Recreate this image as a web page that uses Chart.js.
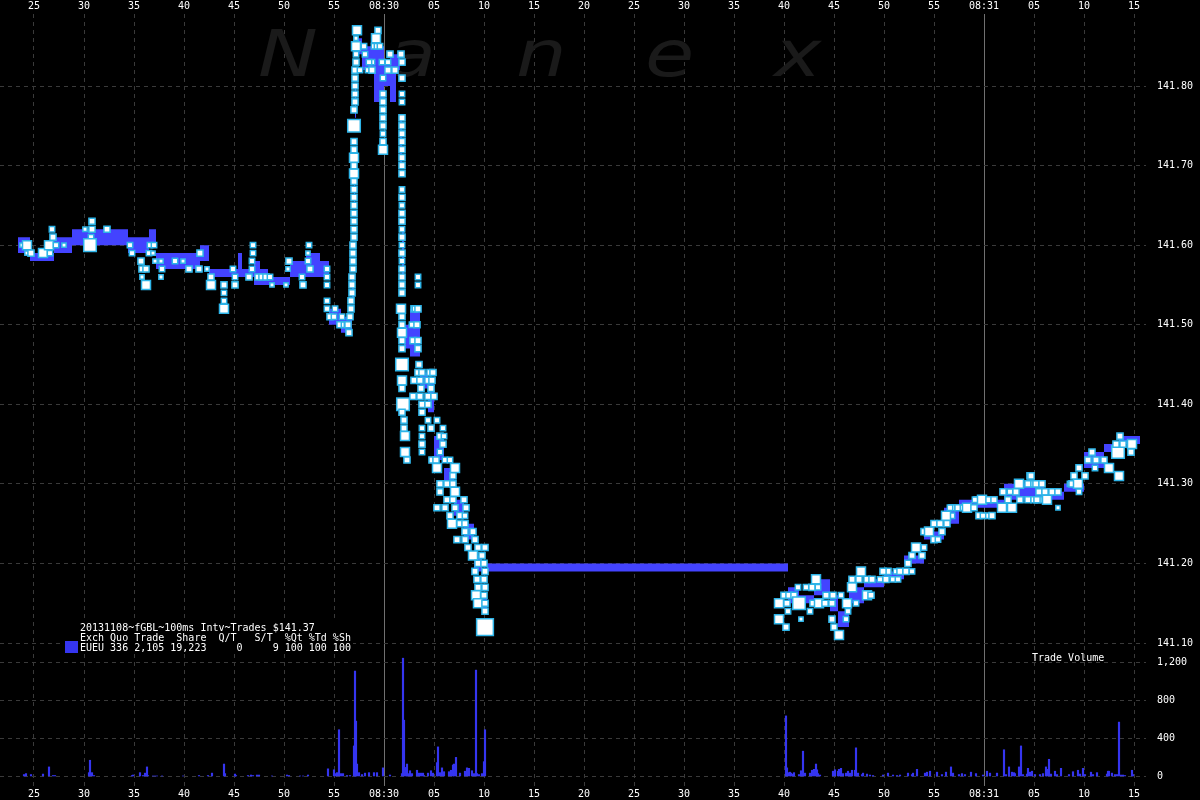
<!DOCTYPE html>
<html>
<head>
<meta charset="utf-8">
<script src="https://cdn.jsdelivr.net/npm/chart.js@4.4.0/dist/chart.umd.min.js"></script>
<style>
  html, body { margin: 0; padding: 0; background: #000; }
  canvas { display: block; }
</style>
</head>
<body>
<canvas id="chart" width="1200" height="800"></canvas>
<script>
/* ---- data (seconds relative to 08:30:00) ---- */
const X_TICKS = [-35, -30, -25, -20, -15, -10, -5, 0, 5, 10, 15, 20, 25, 30, 35, 40, 45, 50, 55, 60, 65, 70, 75];
const MINUTE_MARKS = [0, 60];
const PRICE_TICKS = [141.10, 141.20, 141.30, 141.40, 141.50, 141.60, 141.70, 141.80];
const VOL_TICKS = [0, 200, 400, 600, 800, 1000, 1200];

// trades: [second, price, contracts]
const PRE_TRADES = [
  [-36.2,141.60,2],[-35.7,141.60,25],[-35.7,141.59,2],[-35.3,141.59,8],[-34.1,141.59,25],[-33.5,141.60,25],
  [-33.4,141.59,5],[-33.2,141.62,5],[-33.1,141.61,8],[-32.8,141.60,5],[-32.0,141.60,2],
  [-29.9,141.62,2],[-29.3,141.61,5],[-29.2,141.63,8],[-29.2,141.62,8],[-29.4,141.60,60],[-27.7,141.62,8],
  [-25.4,141.60,5],[-25.2,141.59,5],[-24.3,141.58,8],[-24.2,141.57,8],[-23.8,141.57,8],[-24.2,141.56,2],
  [-23.8,141.55,25],[-23.5,141.59,5],[-23.4,141.60,5],[-23.0,141.60,5],[-23.1,141.59,2],[-22.9,141.58,2],
  [-22.3,141.58,2],[-22.2,141.57,5],[-22.3,141.56,2],
  [-20.9,141.58,5],[-20.1,141.58,2],[-19.5,141.57,8],[-18.4,141.59,8],[-18.5,141.57,8],[-17.7,141.57,2],
  [-17.3,141.56,8],[-17.3,141.55,25],
  [-16.0,141.55,8],[-16.0,141.54,5],[-16.0,141.53,5],[-16.0,141.52,25],[-15.1,141.57,5],[-14.9,141.56,5],[-14.9,141.55,8],
  [-13.5,141.56,8],[-13.1,141.60,5],[-13.1,141.59,5],[-13.2,141.58,5],[-13.2,141.57,5],[-12.6,141.56,8],
  [-12.2,141.56,8],[-11.8,141.56,8],[-11.4,141.56,5],[-11.2,141.55,2],
  [-9.8,141.55,2],[-9.5,141.58,8],[-9.6,141.57,2],[-8.2,141.56,5],[-8.1,141.55,8],[-7.5,141.60,5],
  [-7.6,141.59,2],[-7.6,141.58,5],[-7.4,141.57,8],
  [-5.7,141.57,5],[-5.7,141.56,5],[-5.7,141.55,5],[-5.7,141.53,5],[-5.7,141.52,5],[-5.4,141.51,8],
  [-5.0,141.51,5],[-4.9,141.52,5],[-4.4,141.50,8],[-4.2,141.51,5],[-4.0,141.50,5],[-3.7,141.50,5]
];

const SPIKE_TRADES = [
  [-3.6,141.50,8],[-3.5,141.49,8],[-3.4,141.51,8],[-3.3,141.52,8],[-3.3,141.53,8],[-3.2,141.54,8],
  [-3.2,141.55,8],[-3.2,141.56,8],[-3.1,141.57,8],[-3.1,141.58,8],[-3.1,141.59,8],[-3.1,141.60,8],
  [-3.0,141.61,8],[-3.0,141.62,8],[-3.0,141.63,8],[-3.0,141.64,8],[-3.0,141.65,8],[-3.0,141.66,8],
  [-3.0,141.67,8],[-3.0,141.68,8],[-3.0,141.69,25],[-3.0,141.70,8],[-3.0,141.71,25],[-3.0,141.72,8],
  [-3.0,141.73,8],[-3.0,141.75,60],[-3.0,141.77,8],[-2.9,141.78,8],[-2.9,141.79,8],[-2.9,141.80,8],
  [-2.9,141.81,8],[-2.9,141.82,8],[-2.8,141.84,5],
  [-2.7,141.87,25],[-2.8,141.86,2],[-2.8,141.85,25],[-2.0,141.85,5],[-1.0,141.85,5],[-0.7,141.85,5],
  [-0.6,141.87,8],[-0.8,141.86,25],[-0.4,141.85,5],[-2.8,141.83,8],[-2.4,141.82,5],[-1.6,141.82,5],
  [-1.2,141.82,8],[-1.2,141.83,5],[-0.2,141.83,5],[0.4,141.83,5],[0.4,141.82,8],[1.1,141.82,8],
  [0.6,141.84,8],[1.7,141.84,8],[1.8,141.83,8],[-1.9,141.84,5],[-1.5,141.83,5],
  [-0.1,141.81,5],[-0.1,141.79,8],[-0.1,141.78,8],[-0.1,141.77,8],[-0.1,141.76,8],[-0.1,141.75,8],
  [-0.1,141.74,5],[-0.1,141.73,8],[-0.1,141.72,25],
  [1.8,141.81,8],[1.8,141.79,5],[1.8,141.78,5],[1.8,141.76,8],[1.8,141.75,8],[1.8,141.74,8],
  [1.8,141.73,8],[1.8,141.72,8],[1.8,141.71,8],[1.8,141.70,8],[1.8,141.69,8],[1.8,141.67,5],
  [1.8,141.66,8],[1.8,141.65,5],[1.8,141.64,8],[1.8,141.63,8],[1.8,141.62,5],[1.8,141.61,8],
  [1.8,141.60,5],[1.8,141.59,8],[1.8,141.58,5],[1.8,141.57,8],[1.8,141.56,8],[1.8,141.55,8],
  [1.8,141.54,8],[1.7,141.52,25],[1.8,141.51,8],[1.8,141.50,8],[1.8,141.49,25],
  [3.4,141.56,5],[3.4,141.55,5],[3.0,141.52,8]
];

const DROP_TRADES = [
  [1.8,141.48,8],[1.8,141.47,8],[1.8,141.45,60],[1.8,141.43,25],[1.8,141.42,8],[1.9,141.40,60],
  [1.8,141.39,8],[2.0,141.38,8],[2.0,141.37,8],[2.1,141.36,25],[2.1,141.34,25],[2.3,141.33,8],
  [3.1,141.52,5],[3.4,141.52,8],[2.8,141.50,5],[3.3,141.50,8],[2.9,141.48,8],[3.4,141.48,8],
  [3.4,141.47,8],[3.5,141.45,8],
  [3.4,141.44,8],[3.8,141.44,8],[4.6,141.44,8],[4.9,141.44,8],
  [3.0,141.43,8],[3.6,141.43,8],[4.4,141.43,8],[4.8,141.43,8],
  [3.7,141.42,8],[4.7,141.42,8],
  [2.9,141.41,8],[3.6,141.41,8],[4.4,141.41,8],[5.0,141.41,8],
  [3.8,141.40,8],[4.4,141.40,8],[3.8,141.39,8],[4.4,141.38,5],[5.3,141.38,5],
  [3.8,141.37,5],[4.7,141.37,8],[5.9,141.37,5],
  [3.8,141.36,5],[5.6,141.36,8],[6.0,141.36,5],
  [3.8,141.35,8],[5.9,141.35,8],[3.8,141.34,5],[5.6,141.34,5],
  [4.8,141.33,8],[5.2,141.33,8],[6.1,141.33,5],[6.6,141.33,5],
  [5.3,141.32,25],[7.1,141.32,25],[6.9,141.31,8],
  [5.6,141.30,8],[6.3,141.30,8],[6.9,141.30,8],[7.1,141.29,25],
  [5.6,141.29,8],[6.3,141.28,8],[6.9,141.28,8],[8.0,141.28,8],
  [5.3,141.27,8],[6.1,141.27,8],[7.1,141.27,8],[8.2,141.27,8],
  [6.6,141.26,8],[7.6,141.26,8],[8.1,141.26,5],
  [6.8,141.25,25],[7.6,141.25,8],[8.1,141.25,8],[8.1,141.24,8],[8.9,141.24,8],
  [7.3,141.23,8],[8.1,141.23,8],[9.1,141.23,8],
  [8.4,141.22,8],[9.4,141.22,8],[10.1,141.22,8],
  [8.9,141.21,25],[9.8,141.21,8],[9.4,141.20,8],[10.0,141.20,8],
  [9.1,141.19,8],[10.1,141.19,8],[9.3,141.18,8],[10.0,141.18,8],
  [9.4,141.17,8],[10.1,141.17,8],[9.2,141.16,25],[10.0,141.16,8],
  [9.4,141.15,25],[10.1,141.15,8],[10.1,141.14,8],[10.1,141.12,120]
];

const RECOVERY_TRADES = [
  [39.5,141.15,25],[39.5,141.13,25],[40.2,141.12,8],[40.0,141.16,8],[40.5,141.16,8],[41.0,141.16,8],
  [40.3,141.15,8],[40.4,141.14,5],[41.5,141.15,60],[41.7,141.13,2],[41.4,141.17,5],[42.2,141.17,5],
  [42.8,141.17,8],[43.2,141.18,25],[43.4,141.17,5],[42.9,141.15,8],[43.5,141.15,25],[44.1,141.15,8],
  [42.6,141.14,5],[44.2,141.16,8],[44.9,141.16,8],[44.8,141.15,8],[44.8,141.13,8],[45.0,141.12,8],
  [45.5,141.11,25],[46.3,141.15,25],[46.4,141.14,5],[46.2,141.13,5],[45.7,141.16,5],
  [46.8,141.17,25],[46.8,141.18,8],[47.2,141.15,5],[47.5,141.18,8],[48.3,141.18,8],[47.7,141.19,25],
  [48.3,141.16,25],[48.7,141.16,8],[48.8,141.18,8],[49.6,141.18,5],[50.2,141.18,8],[50.4,141.19,8],
  [50.9,141.18,5],[51.4,141.18,5],[51.2,141.19,5],[49.9,141.19,8],
  [51.6,141.19,8],[52.2,141.19,8],[52.8,141.19,5],[52.4,141.20,8],[52.8,141.21,8],
  [53.2,141.22,25],[53.8,141.21,8],[54.0,141.22,5],
  [54.0,141.24,8],[54.5,141.24,25],[55.0,141.23,8],[55.4,141.23,5],[55.0,141.25,8],[55.8,141.24,8],
  [55.6,141.25,8],[56.3,141.25,8],[56.8,141.26,5],[56.2,141.26,25],[56.8,141.27,8],[56.6,141.27,5],
  [57.4,141.27,8],[57.9,141.27,5],[58.3,141.27,25],[59.0,141.27,8],[59.3,141.28,8],
  [59.5,141.26,8],[60.3,141.26,5],[60.8,141.26,8],[59.1,141.28,5],
  [59.8,141.28,25],[60.5,141.28,8],[61.0,141.28,8],[59.9,141.26,5],
  [61.8,141.27,25],[62.4,141.28,8],[61.9,141.29,8],[62.8,141.27,25],[62.6,141.29,5],[63.2,141.29,8],
  [63.5,141.30,25],[63.6,141.28,8],[64.4,141.28,8],[65.0,141.28,8],[65.5,141.28,8],
  [64.6,141.31,8],[64.4,141.30,8],[65.0,141.30,8],[65.5,141.29,8],
  [64.7,141.31,8],[65.2,141.30,8],[65.8,141.30,8],[65.3,141.28,8],[66.1,141.29,8],[66.3,141.28,25],
  [66.8,141.29,8],[67.4,141.29,8],[67.4,141.27,2],
  [68.6,141.30,5],[68.8,141.30,8],[69.4,141.30,25],[69.0,141.31,8],[69.5,141.29,5],
  [69.5,141.32,8],[70.1,141.31,8],[70.4,141.33,8],[70.8,141.34,8],[71.2,141.33,8],[71.1,141.32,5],
  [72.0,141.33,8],[72.6,141.32,8],[72.5,141.32,25],[73.5,141.31,25],[73.4,141.34,60],
  [73.6,141.36,8],[73.2,141.35,8],[73.9,141.35,8],[74.8,141.35,25],[74.7,141.34,8]
];

// inside quote band (bid / ask), held until the next change
const QUOTE_SEC = [-36.6, -35.4, -33.0, -31.2, -25.6, -23.5, -22.8, -18.4, -17.5, -14.6, -14.2, -13.0, -12.4, -11.6,
  -9.4, -7.8, -6.4, -5.5, -4.3, -3.2, -3.0, -2.9, -2.8, -2.2, -1.0, 0.0, 0.6, 1.2, 1.6, 1.8, 2.0, 2.6, 3.6, 4.4,
  5.0, 6.0, 7.0, 8.0, 9.0, 9.8, 10.3, 40.4, 41.5, 43.0, 44.6, 45.4, 46.5, 48.0, 50.0, 52.0, 54.0, 56.0, 57.5,
  62.0, 66.0, 68.0, 70.0, 72.0, 73.5, 75.6];
const QUOTE_BID = [141.59, 141.58, 141.59, 141.60, 141.59, 141.60, 141.57, 141.58, 141.56, 141.56, 141.56, 141.55, 141.55, 141.55,
  141.56, 141.56, 141.56, 141.50, 141.49, 141.53, 141.65, 141.76, 141.84, 141.82, 141.78, 141.80, 141.78, 141.82, 141.70, 141.56, 141.47, 141.46, 141.42, 141.39,
  141.33, 141.30, 141.26, 141.23, 141.19, 141.14, 141.19, 141.15, 141.15, 141.16, 141.14, 141.12, 141.15, 141.17, 141.18, 141.20, 141.23, 141.25, 141.27,
  141.28, 141.28, 141.29, 141.32, 141.34, 141.35, 141.35];
const QUOTE_ASK = [141.61, 141.59, 141.61, 141.62, 141.61, 141.62, 141.59, 141.60, 141.57, 141.59, 141.57, 141.58, 141.57, 141.56,
  141.58, 141.59, 141.58, 141.52, 141.51, 141.56, 141.70, 141.80, 141.86, 141.85, 141.85, 141.83, 141.84, 141.84, 141.76, 141.62, 141.50, 141.52, 141.44, 141.43,
  141.36, 141.32, 141.28, 141.25, 141.21, 141.16, 141.20, 141.17, 141.16, 141.18, 141.16, 141.14, 141.17, 141.18, 141.19, 141.21, 141.24, 141.27, 141.28,
  141.30, 141.29, 141.30, 141.34, 141.35, 141.36, 141.36];

// trade volume per 100ms interval
const VOL_SEC = [-36.0, -35.8, -35.3, -34.1, -33.5, -33.1, -32.9, -29.5, -29.4, -29.2, -29.0, -25.2, -25.1, -24.4, -24.1,
  -23.9, -23.7, -23.6, -23.1, -22.9, -22.7, -22.2, -20.1, -18.5, -17.6, -17.2, -16.0, -15.9, -14.9, -14.8, -13.6,
  -13.3, -13.1, -12.7, -12.5, -11.2, -9.7, -9.5, -8.4, -8.1, -7.6, -5.6, -5.0, -4.8, -4.7, -4.5, -4.3, -4.1, -3.7,
  -3.4, -3.0, -2.9, -2.8, -2.7, -2.5, -2.2, -1.9, -1.5, -1.0, -0.7, -0.1, 0.6, 1.8, 1.9, 2.0, 2.2, 2.3, 2.4, 2.6,
  2.8, 3.3, 3.5, 3.7, 3.9, 4.0, 4.4, 4.7, 4.9, 5.3, 5.4, 5.6, 5.8, 6.0, 6.5, 6.7, 6.9, 7.0, 7.2, 7.6, 8.1, 8.3,
  8.5, 8.8, 9.0, 9.2, 9.3, 9.5, 9.8, 10.0, 10.1,
  40.2, 40.3, 40.4, 40.6, 40.7, 40.9, 41.0, 41.5, 41.7, 41.8, 41.9, 42.1, 42.6, 42.8, 43.0, 43.2, 43.3, 43.4, 43.6,
  44.9, 45.1, 45.4, 45.5, 45.7, 45.9, 46.2, 46.4, 46.6, 46.8, 47.1, 47.2, 47.4, 47.8, 47.9, 48.3, 48.6, 48.9, 49.9,
  50.4, 50.9, 51.3, 51.6, 52.4, 52.8, 52.9, 53.3, 54.1, 54.3, 54.6, 55.3, 55.8, 56.2, 56.7, 56.9, 57.5, 57.8, 58.1,
  58.7, 59.2, 59.9, 60.3, 60.6, 61.3, 62.0, 62.2, 62.5, 62.8, 63.0, 63.1, 63.5, 63.7, 63.9, 64.3, 64.4, 64.6, 64.8,
  65.1, 65.6, 65.9, 66.2, 66.3, 66.5, 66.7, 67.1, 67.3, 67.7, 68.5, 68.9, 69.4, 69.6, 69.9, 70.1, 70.7, 70.9, 71.3,
  72.3, 72.4, 72.5, 72.8, 73.1, 73.3, 73.5, 73.7, 73.9, 74.1, 74.8, 74.9];
const VOL_QTY = [20, 30, 20, 25, 100, 10, 10, 40, 170, 40, 10, 10, 15, 40, 10,
  35, 100, 10, 5, 5, 5, 5, 5, 10, 10, 35, 130, 30, 25, 10, 10,
  15, 10, 15, 15, 5, 15, 10, 5, 5, 15, 80, 70, 30, 40, 490, 30, 30, 10,
  10, 320, 1105, 580, 130, 40, 20, 35, 40, 40, 40, 90, 15, 30, 1240, 590, 95, 130, 30, 60,
  30, 65, 35, 35, 35, 10, 35, 60, 35, 145, 310, 40, 90, 50, 50, 65, 120, 130, 200, 35, 55, 90,
  85, 60, 30, 1115, 30, 20, 30, 155, 490,
  635, 90, 40, 45, 35, 25, 40, 20, 60, 15, 265, 35, 35, 65, 75, 130, 70, 30, 15,
  55, 70, 55, 75, 85, 30, 35, 55, 35, 65, 65, 300, 35, 20, 35, 25, 15, 10, 15,
  35, 15, 10, 15, 35, 20, 35, 75, 35, 45, 55, 45, 20, 45, 100, 35, 20, 30, 20,
  45, 30, 15, 55, 35, 35, 280, 20, 100, 45, 40, 30, 100, 320, 20, 25, 85, 45, 55,
  20, 20, 30, 100, 75, 180, 25, 55, 20, 85, 20, 50, 65, 25, 85, 20, 45, 20, 40,
  25, 55, 55, 35, 20, 20, 570, 15, 15, 10, 65, 20];

const TITLE_LINES = [
  '20131108~fGBL~100ms Intv~Trades $141.37',
  'Exch Quo Trade  Share  Q/T   S/T  %Qt %Td %Sh',
  'EUEU 336 2,105 19,223     0     9 100 100 100'
];
const VOLUME_LABEL = 'Trade Volume';
const WATERMARK = 'Nanex';

/* ---- setup ---- */
const X_MIN = -38.4, X_MAX = 76.2;
const PRICE_MIN = 141.0887, PRICE_MAX = 141.8905;
const VOL_MIN = -100, VOL_MAX = 1305;

const GRID = '#3a3a3a';
const MONO = { family: 'DejaVu Sans Mono', size: 10 };
const TRADE_FILL = '#ffffff';
const TRADE_EDGE = '#2db4e8';
const QUOTE_BLUE = '#4343ff';
const VOL_BLUE = '#3535f0';

function timeLabel(s) {
  if (s === 0) return '08:30';
  if (s === 60) return '08:31';
  return String(((s % 60) + 60) % 60).padStart(2, '0');
}

// square side grows with trade size
function tradeRadius(q) {
  const outer = 4 + 1.3 * Math.sqrt(q);
  return (outer - 1.5) / Math.SQRT2;
}

const trades = [...PRE_TRADES, ...SPIKE_TRADES, ...DROP_TRADES, ...RECOVERY_TRADES];

const setTicks = list => axis => { axis.ticks = list.map(v => ({ value: v })); };
// fixed axis box size, no extra label overhang padding
const fixBox = (key, size) => axis => {
  axis[key] = size;
  axis.paddingLeft = axis.paddingRight = axis.paddingTop = axis.paddingBottom = 0;
};

const backdrop = {
  id: 'backdrop',
  beforeDraw(chart) {
    const ctx = chart.ctx;
    ctx.save();
    ctx.fillStyle = '#000';
    ctx.fillRect(0, 0, chart.width, chart.height);
    ctx.restore();
  },
  beforeDatasetsDraw(chart) {
    const ctx = chart.ctx;
    ctx.save();
    ctx.font = 'italic 64px "DejaVu Sans"';
    ctx.fillStyle = '#1a1a1a';
    ctx.textBaseline = 'alphabetic';
    WATERMARK.split('').forEach((ch, i) => {
      ctx.save();
      ctx.translate(258 + i * 129, 76);
      ctx.scale(1.25, 1);
      ctx.fillText(ch, 0, 0);
      ctx.restore();
    });
    ctx.restore();
  },
  afterDatasetsDraw(chart) {
    const ctx = chart.ctx;
    ctx.save();
    ctx.fillStyle = '#000';
    ctx.fillRect(63, 622, 290, 32);
    ctx.font = '10px "DejaVu Sans Mono"';
    ctx.fillStyle = '#fff';
    ctx.textBaseline = 'alphabetic';
    TITLE_LINES.forEach((t, i) => ctx.fillText(t, 80, 631 + i * 10));
    ctx.fillStyle = VOL_BLUE;
    ctx.fillRect(65, 641, 13, 12);
    ctx.fillStyle = '#fff';
    ctx.fillText(VOLUME_LABEL, 1032, 661);
    ctx.restore();
  }
};

const xTicks = { color: '#fff', font: MONO, padding: 2, maxRotation: 0, autoSkip: false, callback: v => timeLabel(v) };

new Chart(document.getElementById('chart'), {
  type: 'scatter',
  data: {
    datasets: [
      {
        type: 'scatter',
        label: 'Trades',
        data: trades.map(([s, p]) => ({ x: s, y: p })),
        pointStyle: 'rect',
        pointRadius: trades.map(([, , q]) => tradeRadius(q)),
        pointBackgroundColor: TRADE_FILL,
        pointBorderColor: TRADE_EDGE,
        pointBorderWidth: 1.5,
        xAxisID: 'x', yAxisID: 'y',
        order: 0
      },
      {
        type: 'bar',
        label: 'Trade Volume',
        data: VOL_SEC.map((s, i) => ({ x: s, y: VOL_QTY[i] })),
        backgroundColor: VOL_BLUE,
        barThickness: 1.5,
        xAxisID: 'x', yAxisID: 'yv',
        order: 1
      },
      {
        type: 'line',
        label: 'Ask',
        data: QUOTE_SEC.map((s, i) => ({ x: s, y: QUOTE_ASK[i] })),
        stepped: true,
        borderWidth: 0,
        pointRadius: 0,
        backgroundColor: QUOTE_BLUE,
        fill: '+1',
        xAxisID: 'x', yAxisID: 'y',
        order: 2
      },
      {
        type: 'line',
        label: 'Bid',
        data: QUOTE_SEC.map((s, i) => ({ x: s, y: QUOTE_BID[i] })),
        stepped: true,
        borderWidth: 0,
        pointRadius: 0,
        backgroundColor: QUOTE_BLUE,
        fill: false,
        xAxisID: 'x', yAxisID: 'y',
        order: 3
      }
    ]
  },
  options: {
    responsive: false,
    animation: false,
    events: [],
    layout: { autoPadding: false, padding: 0 },
    plugins: { legend: { display: false }, tooltip: { enabled: false } },
    scales: {
      x: {
        type: 'linear', position: 'bottom', min: X_MIN, max: X_MAX, offset: false,
        afterBuildTicks: setTicks(X_TICKS),
        afterFit: fixBox('height', 14),
        ticks: xTicks,
        grid: { offset: false, color: c => (c.tick && MINUTE_MARKS.includes(c.tick.value)) ? 'rgba(0,0,0,0)' : GRID, drawTicks: false },
        border: { display: false, dash: [4, 4] }
      },
      xTop: {
        type: 'linear', position: 'top', min: X_MIN, max: X_MAX, offset: false,
        afterBuildTicks: setTicks(X_TICKS),
        afterFit: fixBox('height', 14),
        ticks: xTicks,
        grid: { drawOnChartArea: false, drawTicks: false },
        border: { display: false }
      },
      xMinute: {
        type: 'linear', position: 'bottom', min: X_MIN, max: X_MAX, offset: false,
        afterBuildTicks: setTicks(MINUTE_MARKS),
        afterFit: fixBox('height', 0),
        ticks: { display: false },
        grid: { color: '#707070', lineWidth: 1, drawTicks: false },
        border: { display: false }
      },
      y: {
        type: 'linear', position: 'right', stack: 'panes', stackWeight: 638,
        min: PRICE_MIN, max: PRICE_MAX,
        afterBuildTicks: setTicks(PRICE_TICKS),
        afterFit: fixBox('width', 54),
        ticks: { color: '#fff', font: MONO, padding: 11, callback: v => v.toFixed(2) },
        grid: { color: GRID, drawTicks: false },
        border: { display: false, dash: [4, 4] }
      },
      yv: {
        type: 'linear', position: 'right', stack: 'panes', stackWeight: 134,
        min: VOL_MIN, max: VOL_MAX,
        afterBuildTicks: setTicks(VOL_TICKS),
        afterFit: fixBox('width', 54),
        ticks: { color: '#fff', font: MONO, padding: 11, callback: v => v.toLocaleString('en-US') },
        grid: { color: GRID, drawTicks: false },
        border: { display: false, dash: [4, 4] }
      }
    }
  },
  plugins: [backdrop]
});
</script>
</body>
</html>
